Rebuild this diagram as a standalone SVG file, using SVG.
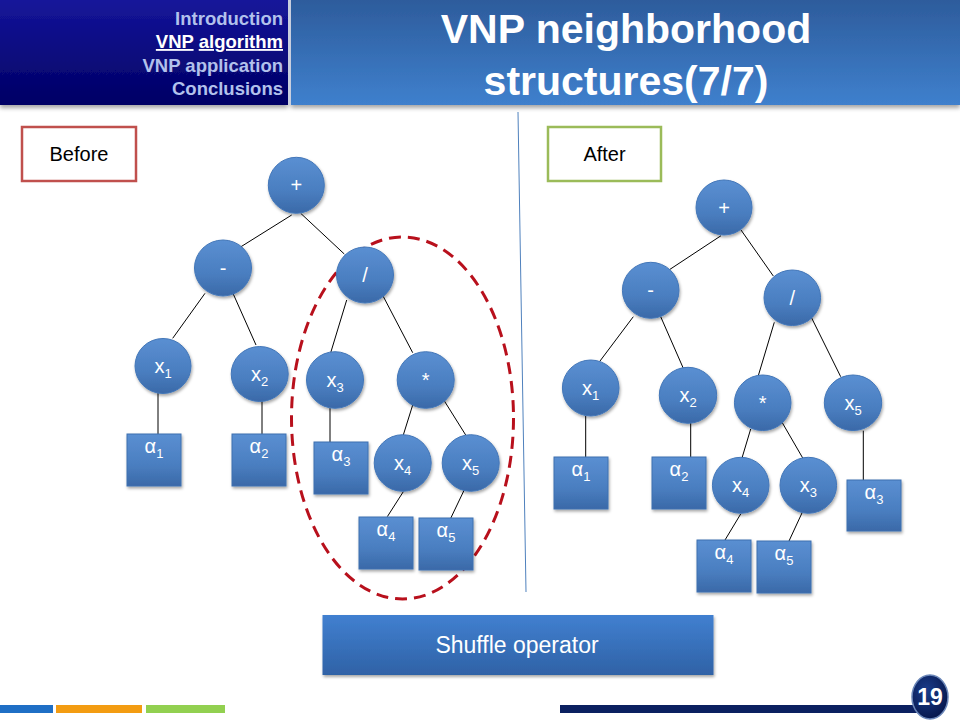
<svg xmlns="http://www.w3.org/2000/svg" width="960" height="720" viewBox="0 0 960 720">
  <defs>
    <linearGradient id="gLeft" x1="0" y1="0" x2="0" y2="1">
      <stop offset="0" stop-color="#15159a"/>
      <stop offset="1" stop-color="#000064"/>
    </linearGradient>
    <linearGradient id="gRight" x1="0" y1="0" x2="0" y2="1">
      <stop offset="0" stop-color="#2d5c9c"/>
      <stop offset="1" stop-color="#3f80cd"/>
    </linearGradient>
    <linearGradient id="gNode" x1="0" y1="0" x2="0" y2="1">
      <stop offset="0" stop-color="#5a8fd2"/>
      <stop offset="0.6" stop-color="#4a7ec0"/>
      <stop offset="1" stop-color="#3a69a8"/>
    </linearGradient>
    <linearGradient id="gBox" x1="0" y1="0" x2="0" y2="1">
      <stop offset="0" stop-color="#4180d0"/>
      <stop offset="1" stop-color="#2f62a6"/>
    </linearGradient>
    <radialGradient id="gPage" cx="0.4" cy="0.35" r="0.7">
      <stop offset="0" stop-color="#1a3c8a"/>
      <stop offset="1" stop-color="#06164a"/>
    </radialGradient>
    <filter id="sh" x="-30%" y="-30%" width="160%" height="170%">
      <feDropShadow dx="1" dy="2" stdDeviation="1.5" flood-color="#000" flood-opacity="0.35"/>
    </filter>
    <filter id="shH" x="-5%" y="-10%" width="110%" height="130%">
      <feDropShadow dx="0" dy="3" stdDeviation="2" flood-color="#000" flood-opacity="0.35"/>
    </filter>
  </defs>
  <style>
    .menu { font-family: "Liberation Sans", Arial, sans-serif; font-weight: bold; font-size: 18.5px; fill: #b2c1ec; text-anchor: end; }
    .title { font-family: "Liberation Sans", Arial, sans-serif; font-weight: bold; font-size: 41px; fill: #ffffff; text-anchor: middle; }
    .circ { fill: url(#gNode); stroke: #4276b8; stroke-width: 1; filter: url(#sh); }
    .sq { fill: url(#gNode); stroke: #3f70b0; stroke-width: 1; filter: url(#sh); }
    .lbl { font-family: "Liberation Sans", Arial, sans-serif; font-size: 20px; fill: #ffffff; text-anchor: middle; }
    .sub { font-size: 13px; }
    .edge { stroke: #000000; stroke-width: 1; fill: none; }
    .tag { font-family: "Liberation Sans", Arial, sans-serif; font-size: 20px; fill: #000000; text-anchor: middle; }
  </style>

  <!-- header -->
  <g id="header">
    <g filter="url(#shH)">
      <rect x="0" y="0" width="288" height="105" fill="url(#gLeft)"/>
      <rect x="291" y="0" width="669" height="105" fill="url(#gRight)"/>
    </g>
    <rect x="288" y="0" width="3" height="105" fill="#c8cede"/>
    <text class="menu" x="283" y="25">Introduction</text>
    <text class="menu" x="283" y="48" style="fill:#ffffff"><tspan text-decoration="underline">VNP</tspan> <tspan text-decoration="underline">algorithm</tspan></text>
    <text class="menu" x="283" y="72">VNP application</text>
    <text class="menu" x="283" y="95">Conclusions</text>
    <text class="title" x="626" y="43">VNP neighborhood</text>
    <text class="title" x="626" y="95">structures(7/7)</text>
  </g>

  <!-- divider -->
  <line x1="518" y1="112" x2="526" y2="592" stroke="#4f81bd" stroke-width="1"/>

  <!-- labels -->
  <g id="before-tag">
    <rect x="22" y="127" width="114" height="54" fill="#ffffff" stroke="#c0504d" stroke-width="2.5"/>
    <text class="tag" x="79" y="161">Before</text>
  </g>
  <g id="after-tag">
    <rect x="548" y="127" width="113" height="54" fill="#ffffff" stroke="#9bbb59" stroke-width="2.5"/>
    <text class="tag" x="604.5" y="161">After</text>
  </g>

  <!-- selection ellipse -->
  <g id="selection">
    <ellipse cx="402.5" cy="418" rx="111" ry="181" fill="none" stroke="#b8101c" stroke-width="3" stroke-dasharray="12 7"/>
  </g>

  <!-- connectors -->
  <g id="connectors">
    <line class="edge" x1="291.7" y1="215" x2="241" y2="246.7"/>
    <line class="edge" x1="300.7" y1="213.3" x2="344.3" y2="254"/>
    <line class="edge" x1="205" y1="293.3" x2="172.7" y2="338.3"/>
    <line class="edge" x1="232.7" y1="292.7" x2="256" y2="345"/>
    <line class="edge" x1="158" y1="393" x2="158" y2="434"/>
    <line class="edge" x1="262" y1="401" x2="262" y2="434"/>
    <line class="edge" x1="346.7" y1="300" x2="330.7" y2="352.7"/>
    <line class="edge" x1="382.7" y1="295.3" x2="412.7" y2="352.7"/>
    <line class="edge" x1="330" y1="408" x2="330" y2="442"/>
    <line class="edge" x1="412.7" y1="405" x2="403.3" y2="435"/>
    <line class="edge" x1="442.7" y1="398.3" x2="465.7" y2="435"/>
    <line class="edge" x1="403.3" y1="491.7" x2="387.3" y2="516.7"/>
    <line class="edge" x1="465" y1="488.3" x2="450.7" y2="518.3"/>

    <line class="edge" x1="721" y1="235.7" x2="670" y2="269.3"/>
    <line class="edge" x1="741" y1="230" x2="773.3" y2="276"/>
    <line class="edge" x1="633.3" y1="316.7" x2="600" y2="361"/>
    <line class="edge" x1="660.7" y1="316.7" x2="683.3" y2="368.3"/>
    <line class="edge" x1="585.7" y1="416" x2="585.7" y2="457"/>
    <line class="edge" x1="690.7" y1="423" x2="690.7" y2="457"/>
    <line class="edge" x1="774.3" y1="322.3" x2="758.3" y2="375.7"/>
    <line class="edge" x1="811" y1="316.7" x2="840.7" y2="376.7"/>
    <line class="edge" x1="750.7" y1="429" x2="741.7" y2="459"/>
    <line class="edge" x1="781.7" y1="421.7" x2="803.3" y2="459"/>
    <line class="edge" x1="863.3" y1="430.7" x2="863.3" y2="480"/>
    <line class="edge" x1="740.7" y1="514" x2="725" y2="540"/>
    <line class="edge" x1="802.3" y1="512.3" x2="789" y2="541"/>
  </g>

  <!-- Before tree -->
  <g id="b-plus"><ellipse class="circ" cx="296.3" cy="185.3" rx="28" ry="28"/><text class="lbl" x="296.3" y="192.3">+</text></g>
  <g id="b-minus"><ellipse class="circ" cx="223" cy="268" rx="28.5" ry="28"/><text class="lbl" x="223" y="275">-</text></g>
  <g id="b-div"><ellipse class="circ" cx="365" cy="275" rx="28.5" ry="28"/><text class="lbl" x="365" y="282">/</text></g>
  <g id="b-x1"><ellipse class="circ" cx="163" cy="366" rx="28" ry="27.5"/><text class="lbl" x="163" y="373">x<tspan class="sub" dy="5">1</tspan></text></g>
  <g id="b-x2"><ellipse class="circ" cx="259.7" cy="374" rx="28.5" ry="27.5"/><text class="lbl" x="259.7" y="381">x<tspan class="sub" dy="5">2</tspan></text></g>
  <g id="b-x3"><ellipse class="circ" cx="335" cy="380" rx="28.5" ry="28.3"/><text class="lbl" x="335" y="387">x<tspan class="sub" dy="5">3</tspan></text></g>
  <g id="b-mul"><ellipse class="circ" cx="425.7" cy="380" rx="28.5" ry="28.3"/><text class="lbl" x="425.7" y="387">*</text></g>
  <g id="b-x4"><ellipse class="circ" cx="402.7" cy="463" rx="28.5" ry="28.3"/><text class="lbl" x="402.7" y="470">x<tspan class="sub" dy="5">4</tspan></text></g>
  <g id="b-x5"><ellipse class="circ" cx="470.7" cy="463" rx="28.5" ry="28.3"/><text class="lbl" x="470.7" y="470">x<tspan class="sub" dy="5">5</tspan></text></g>
  <g id="b-a1"><rect class="sq" x="127" y="434" width="54" height="52"/><text class="lbl" x="154" y="453">α<tspan class="sub" dy="5">1</tspan></text></g>
  <g id="b-a2"><rect class="sq" x="232" y="434" width="54" height="52"/><text class="lbl" x="259" y="453">α<tspan class="sub" dy="5">2</tspan></text></g>
  <g id="b-a3"><rect class="sq" x="314" y="442" width="54" height="52"/><text class="lbl" x="341" y="461">α<tspan class="sub" dy="5">3</tspan></text></g>
  <g id="b-a4"><rect class="sq" x="359" y="517" width="54" height="52"/><text class="lbl" x="386" y="536">α<tspan class="sub" dy="5">4</tspan></text></g>
  <g id="b-a5"><rect class="sq" x="419" y="518" width="54" height="52"/><text class="lbl" x="446" y="537">α<tspan class="sub" dy="5">5</tspan></text></g>

  <!-- After tree -->
  <g id="a-plus"><ellipse class="circ" cx="724" cy="207.5" rx="28" ry="27.5"/><text class="lbl" x="724" y="214.5">+</text></g>
  <g id="a-minus"><ellipse class="circ" cx="650.7" cy="290.3" rx="28.3" ry="28"/><text class="lbl" x="650.7" y="297.3">-</text></g>
  <g id="a-div"><ellipse class="circ" cx="792.3" cy="297.8" rx="28.3" ry="27.8"/><text class="lbl" x="792.3" y="304.8">/</text></g>
  <g id="a-x1"><ellipse class="circ" cx="590.7" cy="388" rx="28.3" ry="28"/><text class="lbl" x="590.7" y="395">x<tspan class="sub" dy="5">1</tspan></text></g>
  <g id="a-x2"><ellipse class="circ" cx="688" cy="395.3" rx="28.7" ry="28"/><text class="lbl" x="688" y="402.3">x<tspan class="sub" dy="5">2</tspan></text></g>
  <g id="a-mul"><ellipse class="circ" cx="762.7" cy="402.8" rx="28.3" ry="27.8"/><text class="lbl" x="762.7" y="409.8">*</text></g>
  <g id="a-x5"><ellipse class="circ" cx="853" cy="402.8" rx="28.7" ry="27.8"/><text class="lbl" x="853" y="409.8">x<tspan class="sub" dy="5">5</tspan></text></g>
  <g id="a-x4"><ellipse class="circ" cx="740.7" cy="485.3" rx="28.3" ry="28"/><text class="lbl" x="740.7" y="492.3">x<tspan class="sub" dy="5">4</tspan></text></g>
  <g id="a-x3"><ellipse class="circ" cx="808.3" cy="485.3" rx="28.3" ry="28"/><text class="lbl" x="808.3" y="492.3">x<tspan class="sub" dy="5">3</tspan></text></g>
  <g id="a-a1"><rect class="sq" x="554" y="457" width="54" height="52"/><text class="lbl" x="581" y="476">α<tspan class="sub" dy="5">1</tspan></text></g>
  <g id="a-a2"><rect class="sq" x="652" y="457" width="54" height="52"/><text class="lbl" x="679" y="476">α<tspan class="sub" dy="5">2</tspan></text></g>
  <g id="a-a3"><rect class="sq" x="847" y="480" width="54" height="51"/><text class="lbl" x="874" y="499">α<tspan class="sub" dy="5">3</tspan></text></g>
  <g id="a-a4"><rect class="sq" x="697" y="540" width="54" height="52"/><text class="lbl" x="724" y="559">α<tspan class="sub" dy="5">4</tspan></text></g>
  <g id="a-a5"><rect class="sq" x="757" y="541" width="54" height="52"/><text class="lbl" x="784" y="560">α<tspan class="sub" dy="5">5</tspan></text></g>

  <!-- operator box -->
  <g id="shuffle">
    <rect x="322.5" y="615" width="391" height="60" fill="url(#gBox)" filter="url(#sh)"/>
    <text x="517" y="653" font-family="Liberation Sans, Arial, sans-serif" font-size="23" fill="#ffffff" text-anchor="middle">Shuffle operator</text>
  </g>

  <!-- footer -->
  <g id="footer">
    <rect x="0" y="705" width="53" height="8" fill="#1f6fc5"/>
    <rect x="56" y="705" width="86" height="8" fill="#f39c12"/>
    <rect x="146" y="705" width="79" height="8" fill="#92d050"/>
    <rect x="560" y="705" width="360" height="8" fill="#0b2060"/>
    <ellipse cx="930" cy="697" rx="18" ry="22" fill="url(#gPage)" stroke="#6a86b8" stroke-width="1.5"/>
    <text x="930" y="705" font-family="Liberation Sans, Arial, sans-serif" font-weight="bold" font-size="23" fill="#ffffff" text-anchor="middle">19</text>
  </g>
</svg>
